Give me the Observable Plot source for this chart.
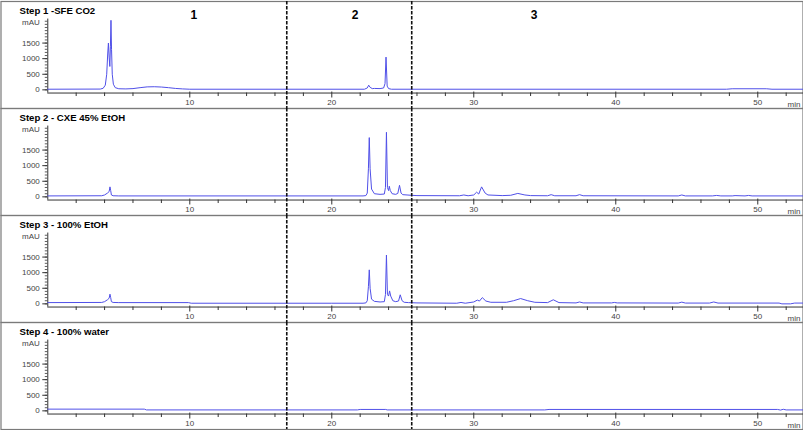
<!DOCTYPE html>
<html><head><meta charset="utf-8">
<script src="https://cdn.jsdelivr.net/npm/d3@7"></script>
<script src="https://cdn.jsdelivr.net/npm/@observablehq/plot@0.6"></script>
<style>body{margin:0;background:#fff}</style>
</head><body><div id="chart"></div>
<script>
const steps = ["Step 1 -SFE CO2", "Step 2 - CXE 45% EtOH", "Step 3 - 100% EtOH", "Step 4 - 100% water"];

const step1Time = [0, 3.7, 3.9, 4.05, 4.15, 4.22, 4.27, 4.32, 4.37, 4.41, 4.45, 4.49, 4.54, 4.62, 4.75, 5.0, 5.5, 6.0, 6.5, 7.0, 7.5, 8.0, 8.5, 9.0, 9.5, 10.0, 22.3, 22.5, 22.6, 22.7, 22.85, 23.0, 23.4, 23.65, 23.75, 23.82, 23.9, 24.0, 24.2, 47.8, 48.2, 50.6, 51.0, 53.2];
const step1Abs  = [20, 25, 50, 150, 500, 1150, 1500, 1050, 750, 1400, 2230, 1300, 500, 180, 70, 35, 30, 40, 70, 95, 100, 90, 70, 45, 30, 20, 20, 60, 150, 80, 40, 45, 40, 60, 200, 1050, 120, 40, 20, 20, 35, 35, 20, 20];

const step2Time = [0, 3.8, 4.0, 4.2, 4.32, 4.38, 4.43, 4.48, 4.6, 5.0, 22.2, 22.4, 22.5, 22.58, 22.64, 22.7, 22.8, 23.0, 23.4, 23.7, 23.78, 23.85, 23.92, 24.0, 24.05, 24.12, 24.25, 24.5, 24.65, 24.77, 24.88, 25.0, 25.3, 25.6, 26.0, 29.0, 29.3, 29.6, 30.0, 30.2, 30.35, 30.55, 30.8, 31.0, 32.0, 32.6, 33.1, 33.6, 34.0, 35.2, 35.45, 35.7, 37.2, 37.45, 37.7, 44.4, 44.65, 44.9, 46.8, 47.1, 47.4, 48.2, 48.4, 49.1, 49.35, 49.6, 53.2];
const step2Abs  = [30, 35, 60, 120, 170, 320, 200, 60, 35, 30, 30, 40, 120, 900, 1900, 900, 250, 100, 80, 90, 300, 2070, 300, 200, 340, 200, 100, 80, 110, 370, 120, 70, 60, 50, 40, 35, 60, 35, 60, 150, 90, 320, 120, 60, 40, 50, 110, 60, 40, 35, 70, 35, 35, 70, 35, 30, 60, 30, 30, 45, 30, 30, 40, 30, 45, 30, 30];

const step3Time = [0, 3.8, 4.0, 4.2, 4.32, 4.38, 4.43, 4.48, 4.6, 5.0, 9.9, 10.1, 20.0, 22.2, 22.4, 22.5, 22.58, 22.64, 22.7, 22.8, 23.0, 23.4, 23.7, 23.78, 23.85, 23.92, 24.0, 24.07, 24.15, 24.3, 24.5, 24.7, 24.82, 24.95, 25.1, 25.4, 26.0, 28.8, 29.1, 29.4, 30.0, 30.25, 30.4, 30.6, 30.85, 31.2, 32.3, 32.8, 33.3, 33.8, 34.3, 35.2, 35.6, 36.0, 37.2, 37.45, 37.7, 39.7, 39.9, 40.1, 44.4, 44.65, 44.9, 46.6, 46.9, 47.2, 51.5, 51.7, 52.3, 52.6, 53.2];
const step3Abs  = [40, 45, 70, 130, 180, 310, 200, 70, 45, 40, 40, 20, 20, 20, 30, 100, 550, 1090, 500, 150, 80, 60, 70, 300, 1565, 300, 250, 415, 250, 100, 70, 90, 290, 100, 50, 40, 30, 20, 45, 20, 60, 120, 90, 200, 90, 50, 50, 100, 170, 100, 50, 40, 130, 40, 30, 60, 30, 30, 45, 30, 25, 55, 25, 25, 60, 25, 25, 0, 0, 25, 25];

const step4Time = [0, 6.8, 6.95, 21.8, 22.0, 23.8, 23.9, 35.0, 35.3, 51.4, 51.6, 51.8, 52.0, 53.2];
const step4Abs  = [55, 55, 30, 30, 45, 45, 30, 30, 45, 45, 25, 50, 30, 30];

const xMajorTicks = [10, 20, 30, 40, 50];
const xMinorTicks = [2, 4, 6, 8, 12, 14, 16, 18, 22, 24, 26, 28, 32, 34, 36, 38, 42, 44, 46, 48, 52];
const yMajorTicks = [0, 500, 1000, 1500];
const yMinorTicks = [0, 100, 200, 300, 400, 500, 600, 700, 800, 900, 1000, 1100, 1200, 1300, 1400, 1500, 1600, 1700, 1800, 1900, 2000, 2100, 2200];
const stepBoundaries = [16.83, 25.63];
const regionLabels = ["1", "2", "3"];
const regionCenters = [10.28, 21.64, 34.25];

const traces = [[step1Time, step1Abs], [step2Time, step2Abs], [step3Time, step3Abs], [step4Time, step4Abs]];
const rows = traces.flatMap(([ts, vs], k) => ts.map((t, i) => ({step: steps[k], t, v: vs[i]})));

const W = 803, H = 430;
const xDomain = [-3.33, 53.22];
const yDomain = [-598, 2833];
const pxX = (xDomain[1] - xDomain[0]) / W;
const pxY = (yDomain[1] - yDomain[0]) / (H / 4);
const axisLevel = -3.2 * pxY;
const yAxisTop = 2270;
const ink = "#333";

const chart = Plot.plot({
  width: W, height: H,
  marginTop: 0, marginBottom: 0, marginLeft: 0, marginRight: 0,
  style: {fontFamily: "'Liberation Sans', Arial, sans-serif", background: "#fff"},
  x: {domain: xDomain, axis: null},
  y: {domain: yDomain, axis: null},
  fy: {domain: steps, padding: 0, axis: null},
  marks: [
    Plot.frame({stroke: "#7a7a7a", strokeWidth: 1.2, insetLeft: 0.5, insetRight: 0.5}),
    // x axis
    Plot.ruleY([axisLevel], {x1: 0, x2: xDomain[1], stroke: ink, strokeWidth: 1}),
    Plot.ruleX(xMajorTicks, {y1: axisLevel + 1 * pxY, y2: axisLevel - 5 * pxY, stroke: ink}),
    Plot.ruleX(xMinorTicks, {y1: axisLevel, y2: axisLevel - 3.5 * pxY, stroke: ink}),
    Plot.text(xMajorTicks, {x: d => d, y: axisLevel, dy: 9.5, text: d => String(d), fontSize: 8, fill: "#444"}),
    Plot.text(["min"], {x: xDomain[1], y: axisLevel, dx: -3, dy: 11, text: d => d, textAnchor: "end", fontSize: 8, fill: "#444"}),
    // y axis
    Plot.ruleX([0], {y1: axisLevel, y2: yAxisTop, stroke: ink}),
    Plot.ruleY(yMinorTicks, {x1: -2.5 * pxX, x2: 0, stroke: ink, strokeWidth: 0.8}),
    Plot.ruleY(yMajorTicks, {x1: -5 * pxX, x2: 0, stroke: ink}),
    Plot.text(yMajorTicks, {x: 0, y: d => d, dx: -8, text: d => String(d), textAnchor: "end", fontSize: 8, fill: "#444"}),
    Plot.text(["mAU"], {x: 0, y: 2170, dx: -8, text: d => d, textAnchor: "end", fontSize: 8, fill: "#444"}),
    // traces
    Plot.line(rows, {x: "t", y: "v", fy: "step", stroke: "#5050e8", strokeWidth: 1}),
    // step boundaries
    Plot.ruleX(stepBoundaries, {stroke: "#111", strokeWidth: 1.6, strokeDasharray: "3.5,1.5"}),
    // titles
    Plot.text(steps, {fy: d => d, text: d => d, frameAnchor: "top-left", dx: 19, dy: 9.5, lineAnchor: "middle", textAnchor: "start", fontWeight: "bold", fontSize: 9.6, fill: "#000"}),
    Plot.text(regionLabels, {x: (d, i) => regionCenters[i], fy: () => steps[0], text: d => d, frameAnchor: "top", dy: 13.5, lineAnchor: "middle", fontWeight: "bold", fontSize: 12, fill: "#000"})
  ]
});
document.getElementById("chart").appendChild(chart);
</script>
</body></html>
